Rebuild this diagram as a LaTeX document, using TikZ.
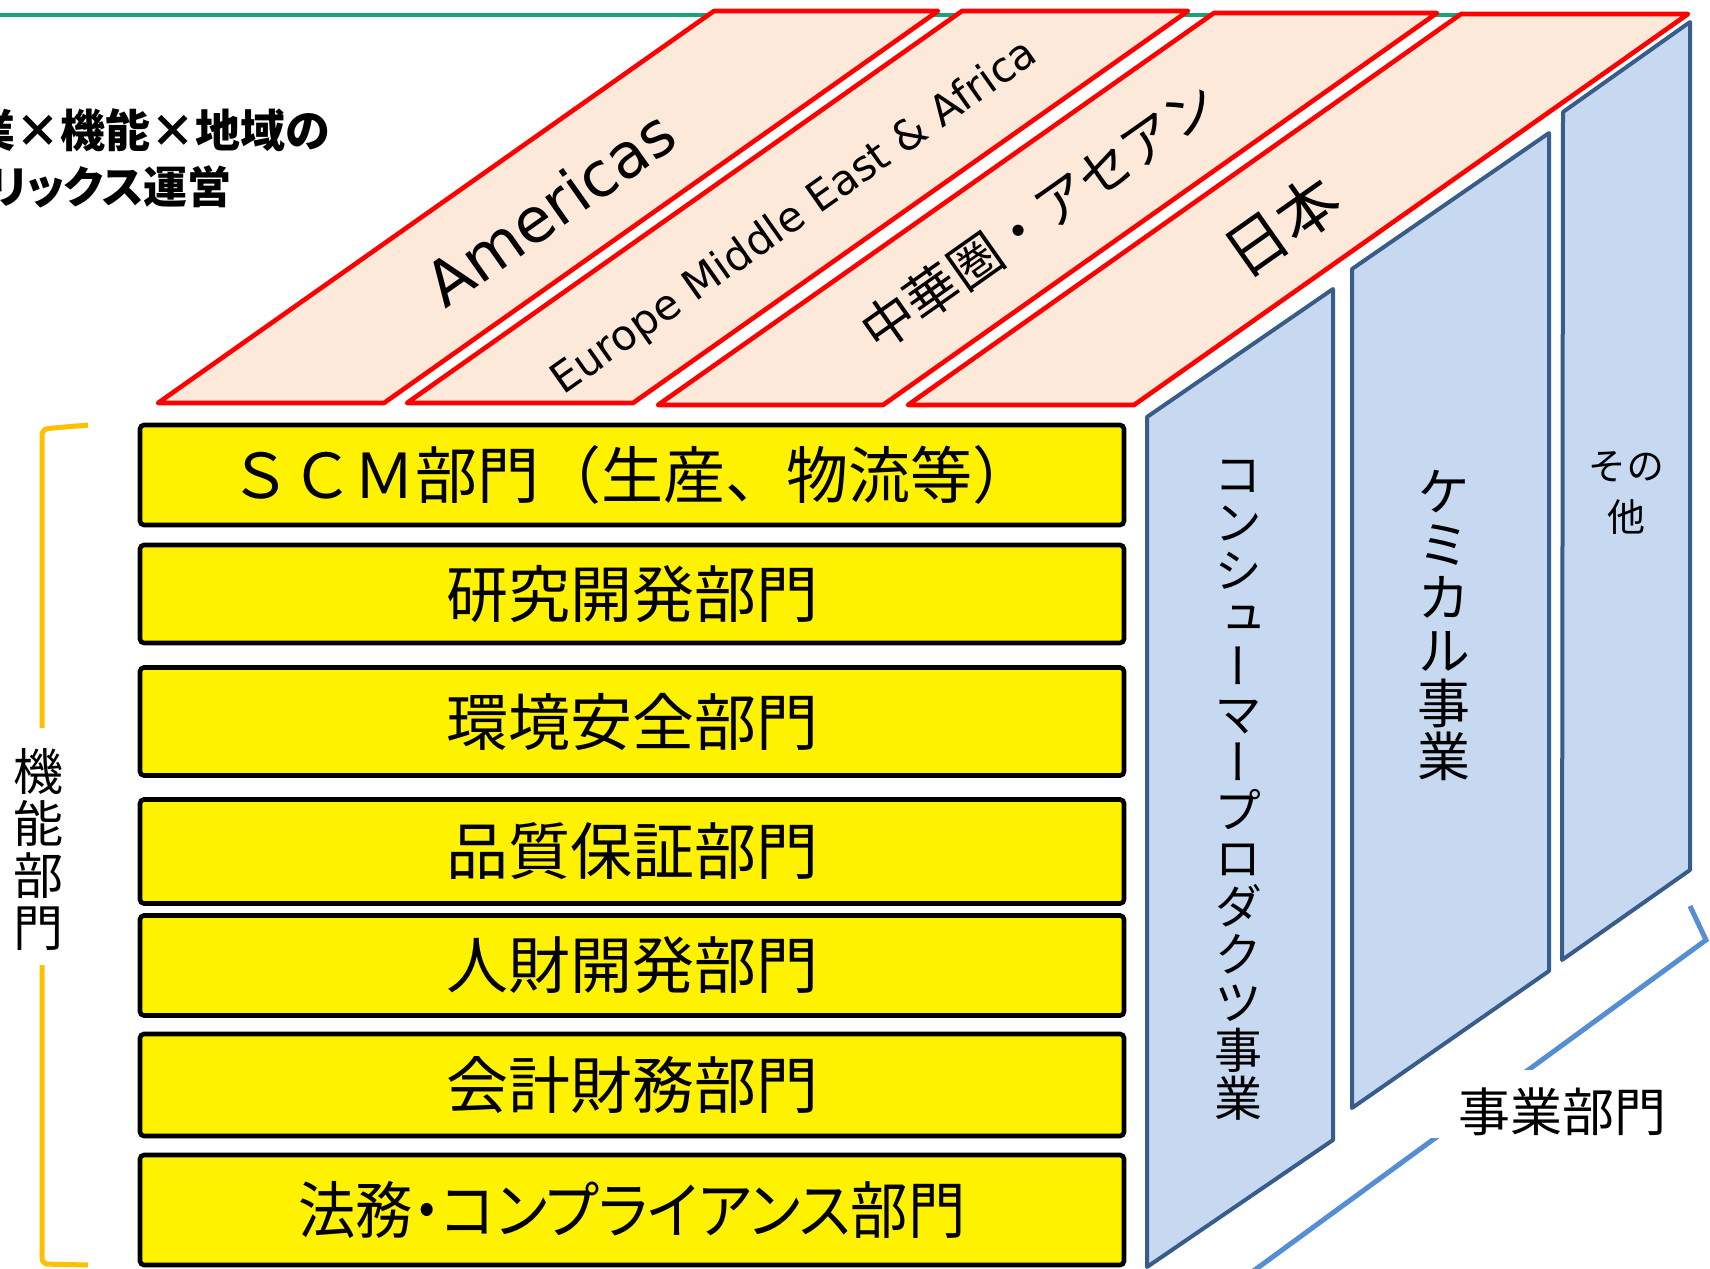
\documentclass[tikz,border=0pt]{standalone}
\usepackage{fontspec}
\newfontfamily\jp{Noto Sans CJK JP}
\newfontfamily\jpp[RawFeature=+palt]{Noto Sans CJK JP}
\newfontfamily\jpfw[RawFeature=+fwid]{Noto Sans CJK JP}
\newfontfamily\jpv[RawFeature=+vert]{Noto Sans CJK JP}
\newfontfamily\lat{DejaVu Sans}
\definecolor{peach}{HTML}{FDE9D9}
\definecolor{redline}{HTML}{FF0000}
\definecolor{panelfill}{HTML}{C6D9F1}
\definecolor{paneledge}{HTML}{385D8A}
\definecolor{gold}{HTML}{FFC000}
\definecolor{bracketblue}{HTML}{558ED5}
\definecolor{topgreen}{HTML}{1AA37A}
\tikzset{
  region/.style={draw=redline, fill=peach, line width=2.3pt, line join=round},
  regiontext/.style={rotate=35.2, inner sep=0pt, text=black},
  ybox/.style={draw=black, fill=yellow, line width=2.3pt, rounded corners=2pt,
    minimum width=492pt, inner sep=0pt, font=\jp\fontsize{31}{31}\selectfont},
  panel/.style={draw=paneledge, fill=panelfill, line width=2pt, line join=round},
  vtext/.style={align=center, inner sep=0pt},
  goldbr/.style={draw=gold, line width=2.5pt, rounded corners=3pt},
  bluebr/.style={draw=bracketblue, line width=2.5pt},
  greenline/.style={draw=topgreen, line width=1.6pt},
}
\begin{document}
\begin{tikzpicture}[x=0.5pt,y=-0.5pt]
\useasboundingbox (0,0) rectangle (1710,1269);
\clip (0,0) rectangle (1710,1269);
\fill[white] (0,0) rectangle (1710,1269);

% top green rule
\draw[greenline] (0,15) -- (1620,15);

% title (cut at left edge)
\node[anchor=east, inner sep=0pt, font=\jpfw\bfseries\fontsize{22.5}{22.5}\selectfont] (title1) at (331,130) {事業×機能×地域の};
\node[anchor=east, inner sep=0pt, font=\jpp\bfseries\fontsize{22}{22}\selectfont] (title2) at (232,187) {マトリックス運営};

% regions (top faces)
\path[region] (158,403) -- (384,403) -- (938,11) -- (714,11) -- cycle;
\path[region] (407,403) -- (633,403) -- (1188,11) -- (962,11) -- cycle;
\path[region] (658,405) -- (883,405) -- (1437,13) -- (1214,13) -- cycle;
\path[region] (908,405) -- (1134,405) -- (1688,14) -- (1461,14) -- cycle;
\node[regiontext, font=\lat\fontsize{31}{31}\selectfont] (am) at (550,208) {Americas};
\node[regiontext, font=\lat\fontsize{21}{21}\selectfont] (eu) at (795,218) {Europe Middle East \& Africa};
\node[regiontext, font=\jp\fontsize{26.5}{26.5}\selectfont] (ca) at (1039,216) {中華圏・アセアン};
\node[regiontext, font=\jp\fontsize{31}{31}\selectfont] (jpn) at (1282,226) {日本};

% functional departments
\node[ybox, minimum height=50pt] (f1) at (632,475) {ＳＣＭ部門（生産、物流等）};
\node[ybox, minimum height=49pt] (f2) at (632,594) {研究開発部門};
\node[ybox, minimum height=54pt] (f3) at (632,721.5) {環境安全部門};
\node[ybox, minimum height=52pt] (f4) at (632,851.5) {品質保証部門};
\node[ybox, minimum height=50pt] (f5) at (632,965.5) {人財開発部門};
\node[ybox, minimum height=51pt] (f6) at (632,1085) {会計財務部門};
\node[ybox, minimum height=55pt, font=\jpp\fontsize{31}{31}\selectfont] (f7) at (632,1210) {\scalebox{0.925}[1]{法務・コンプライアンス部門}};

% business panels (side faces)
\path[panel] (1147,417) -- (1333,289) -- (1333,1140) -- (1147,1267) -- cycle;
\path[panel] (1352,269) -- (1549,133) -- (1549,971) -- (1352,1108) -- cycle;
\path[panel] (1563,112) -- (1690,22) -- (1690,870) -- (1562,960) -- cycle;
\node[vtext, font=\jpv\fontsize{24}{24}\selectfont] (b1) at (1238,790)
  {コ\\ン\\シ\\ュ\\ー\\マ\\ー\\プ\\ロ\\ダ\\ク\\ツ\\事\\業};
\node[vtext, font=\jpv\fontsize{26.5}{26.5}\selectfont] (b2) at (1444,625)
  {ケ\\ミ\\カ\\ル\\事\\業};
\node[vtext, font=\jpv\fontsize{19}{25.5}\selectfont] (b3) at (1626,493)
  {その\\他};

% gold bracket: functional departments
\draw[goldbr] (88,425) -- (42,429) -- (42,728);
\draw[goldbr] (42,965) -- (42,1264) -- (88,1265);
\node[vtext, font=\jp\fontsize{25}{26}\selectfont] (fl) at (38,849) {機\\能\\部\\門};

% blue bracket: business departments
\draw[bluebr] (1690,906) -- (1706,940) -- (1252,1272);
\fill[white] (1420,1070) rectangle (1708,1138);
\node[inner sep=0pt, font=\jp\fontsize{26}{26}\selectfont] (bl) at (1562,1112) {事業部門};
\end{tikzpicture}
\end{document}
